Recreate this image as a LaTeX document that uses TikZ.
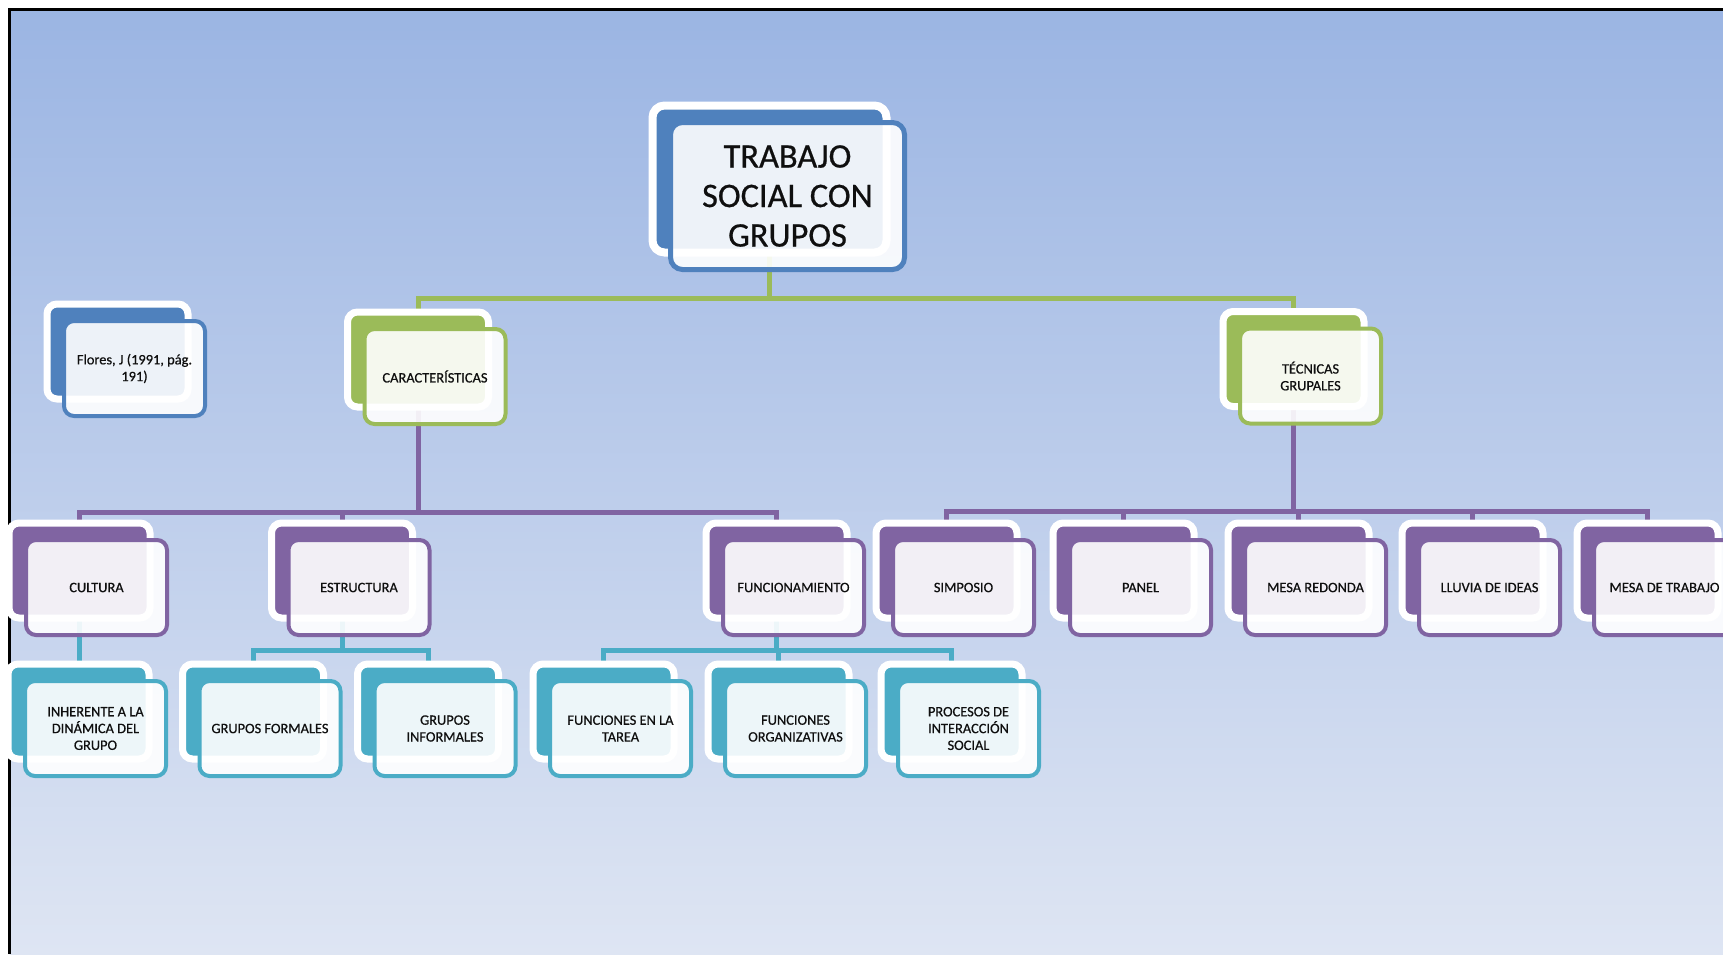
\documentclass[tikz,border=0pt]{standalone}
\usepackage{fontspec}
\setmainfont{Carlito}
\newfontfamily\textoCaja{Carlito}[FakeBold=0.6]
\usepackage{tikz}
\usetikzlibrary{backgrounds}
\definecolor{azulOffice}{RGB}{79,129,189}
\definecolor{verde}{RGB}{155,187,89}
\definecolor{morado}{RGB}{128,100,162}
\definecolor{turquesa}{RGB}{75,172,198}
\definecolor{fondoArriba}{RGB}{155,181,227}
\definecolor{fondoAbajo}{RGB}{222,229,243}
\definecolor{texto}{RGB}{15,15,15}
\tikzstyle{caja}  =[rectangle, rounded corners=5pt, draw=#1, line width=2pt,
                    fill=white, fill opacity=0.9, text opacity=1,
                    minimum width=70.5pt, minimum height=47.5pt,
                    inner sep=2pt, align=center, text=texto,
                    font=\textoCaja\fontsize{7.2}{8.4}\selectfont,
                    preaction={fill=#1, draw=white, line width=3.5pt,
                    fill opacity=1, draw opacity=1,
                    transform canvas={shift={(-8.5pt,8.5pt)}}}]
\tikzstyle{cajaTitulo}=[rectangle, rounded corners=6pt, draw=#1, line width=2.5pt,
                    fill=white, fill opacity=0.9, text opacity=1,
                    minimum width=117pt, minimum height=73.5pt,
                    inner sep=2pt, align=center, text=texto,
                    font=\textoCaja\fontsize{17.2}{19.75}\selectfont,
                    preaction={fill=#1, draw=white, line width=4pt,
                    fill opacity=1, draw opacity=1,
                    transform canvas={shift={(-9pt,8.5pt)}}}]
\tikzstyle{enlace}=[draw=#1, line width=2.5pt]

\begin{document}
\begin{tikzpicture}[x=0.5pt,y=-0.5pt]
    \useasboundingbox (0,0) rectangle (1723,954);
    \clip (0,0) rectangle (1723,954);

    % titulo y segundo nivel
    \node[cajaTitulo=azulOffice] (titulo) at (787.5,196)
        {TRABAJO\\SOCIAL CON\\GRUPOS};
    \node[caja=azulOffice] (flores) at (134.5,368.5)
        {Flores, J (1991, pág.\\191)};
    \node[caja=verde] (caract) at (435,376.5) {CARACTERÍSTICAS};
    \node[caja=verde] (tecnicas) at (1310.5,376) {TÉCNICAS\\GRUPALES};

    % tercer nivel
    \foreach \n/\x/\t in
        {cultura/96.5/CULTURA, estructura/359/ESTRUCTURA,
         funcion/793.5/FUNCIONAMIENTO, simposio/963.5/SIMPOSIO,
         panel/1140.5/PANEL, mesaR/1315.5/MESA REDONDA,
         lluvia/1489.5/LLUVIA DE IDEAS, mesaT/1664.5/MESA DE TRABAJO}
        \node[caja=morado] (\n) at (\x,587.5) {\t};

    % cuarto nivel
    \foreach \n/\x/\t in
        {inherente/95.5/{INHERENTE A LA\\DINÁMICA DEL\\GRUPO},
         gformales/270/GRUPOS FORMALES,
         ginformales/445/{GRUPOS\\INFORMALES},
         ftarea/620.5/{FUNCIONES EN LA\\TAREA},
         forganiz/795.5/{FUNCIONES\\ORGANIZATIVAS},
         procesos/968.5/{PROCESOS DE\\INTERACCIÓN\\SOCIAL}}
        \node[caja=turquesa] (\n) at (\x,728.5) {\t};

    \begin{pgfonlayer}{background}
        \shade[top color=fondoArriba, bottom color=fondoAbajo]
            (9.5,9.5) rectangle (1723,954);
        \draw[line width=1.5pt] (9.5,954) -- (9.5,9.5) -- (1723,9.5);

        \foreach \h in {caract,tecnicas}
            \draw[enlace=verde] ([xshift=-9pt]titulo.center) -- ++(0,102)
                -| ([xshift=-8.5pt]\h.center);

        \foreach \h in {cultura,estructura,funcion}
            \draw[enlace=morado] ([xshift=-8.5pt]caract.center) -- ++(0,135.5)
                -| ([xshift=-8.5pt]\h.center);

        \foreach \h in {simposio,panel,mesaR,lluvia,mesaT}
            \draw[enlace=morado] ([xshift=-8.5pt]tecnicas.center) -- ++(0,135)
                -| ([xshift=-8.5pt]\h.center);

        \draw[enlace=turquesa] ([xshift=-8.5pt]cultura.center)
            -- ([xshift=-8pt]inherente.center);
        \foreach \p/\h in {estructura/gformales,estructura/ginformales,
            funcion/ftarea,funcion/forganiz,funcion/procesos}
            \draw[enlace=turquesa] ([xshift=-8.5pt]\p.center) -- ++(0,62.5)
                -| ([xshift=-8.5pt]\h.center);
    \end{pgfonlayer}

\end{tikzpicture}
\end{document}
